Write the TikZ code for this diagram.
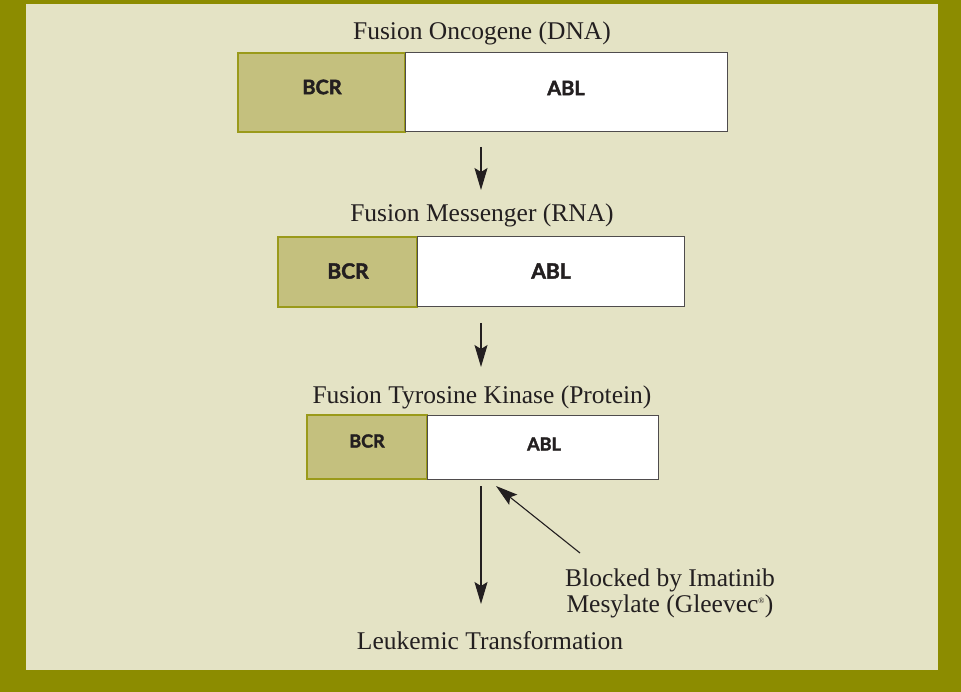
\documentclass[tikz,border=0pt]{standalone}
\usepackage{fontspec}
\setmainfont{Liberation Serif}
\newfontfamily\labfont[BoldFeatures={FakeBold=2}]{Lato}
\usetikzlibrary{arrows.meta}
\definecolor{outerol}{HTML}{8C8C00}
\definecolor{panel}{HTML}{E4E3C5}
\definecolor{bcrfill}{HTML}{C4C07E}
\definecolor{bcredge}{HTML}{9A9A1A}
\definecolor{ink}{HTML}{231F20}
\tikzset{
  bcrbox/.style={draw=bcredge, fill=bcrfill, line width=1.2pt},
  ablbox/.style={draw=ink!80, fill=white, line width=1pt},
  title/.style={font=\fontsize{25.5}{26}\selectfont, text=ink, inner sep=0pt},
  lab/.style={text=ink, inner sep=0pt},
  flow/.style={draw=ink, line width=1.1pt, -{Stealth[length=22pt,width=13pt,inset=4pt]}},
}
\begin{document}
\begin{tikzpicture}[x=1pt,y=-1pt]
\useasboundingbox (0,0) rectangle (961,692);
\fill[outerol] (0,0) rectangle (961,692);
\fill[panel] (26,4) rectangle (938,670);
% box 1
\node[title] (t1) at (482,33) {Fusion Oncogene (DNA)};
\draw[bcrbox] (238,53) rectangle (405,132);
\draw[ablbox] (405,53) rectangle (727,132);
\node[lab, font=\labfont\bfseries\fontsize{20}{22}\selectfont] (b1) at (322,87) {BCR};
\node[lab, font=\labfont\bfseries\fontsize{20}{22}\selectfont] (a1) at (566,88) {ABL};
\coordinate (s1) at (481,147);
\coordinate (e1) at (481,190);
\draw[flow] (s1) -- (e1);
% box 2
\node[title] (t2) at (482,215) {Fusion Messenger (RNA)};
\draw[bcrbox] (278,237) rectangle (417,307);
\draw[ablbox] (417,237) rectangle (684,307);
\node[lab, font=\labfont\bfseries\fontsize{21}{22}\selectfont] (b2) at (348,271) {BCR};
\node[lab, font=\labfont\bfseries\fontsize{21}{22}\selectfont] (a2) at (551,271) {ABL};
\coordinate (s2) at (481,323);
\coordinate (e2) at (481,367);
\draw[flow] (s2) -- (e2);
% box 3
\node[title] (t3) at (482,397) {Fusion Tyrosine Kinase (Protein)};
\draw[bcrbox] (307,415) rectangle (427,479);
\draw[ablbox] (427,415) rectangle (658,479);
\node[lab, font=\labfont\bfseries\fontsize{18}{20}\selectfont] (b3) at (367,441) {BCR};
\node[lab, font=\labfont\bfseries\fontsize{18}{20}\selectfont] (a3) at (544,444) {ABL};
\coordinate (s3) at (481,486);
\coordinate (e3) at (481,604);
\draw[flow] (s3) -- (e3);
\coordinate (ds) at (580,553);
\coordinate (de) at (496,486);
\draw[flow] (ds) -- (de);
\node[title, align=center] (blk) at (670,593) {Blocked by Imatinib\\Mesylate (Gleevec\textsuperscript{\footnotesize\textregistered})};
\node[title] (lt) at (490,641) {Leukemic Transformation};
\end{tikzpicture}
\end{document}
